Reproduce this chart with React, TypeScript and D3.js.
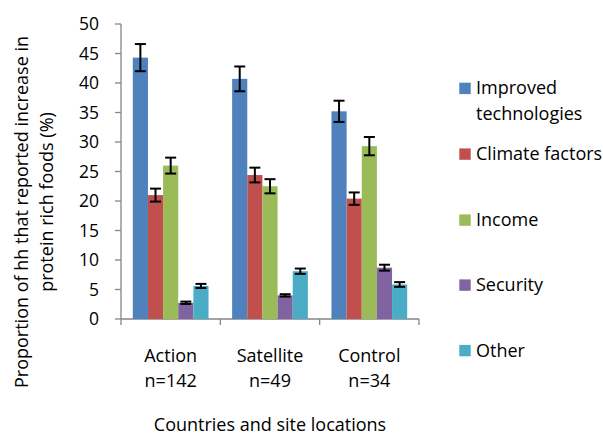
import React from "react";
import * as d3 from "d3";

const categories = ["Action", "Satellite", "Control"];
const categorySubLabels = ["n=142", "n=49", "n=34"];
const seriesNames = ["Improved technologies", "Climate factors", "Income", "Security", "Other"];
const legendLines = [["Improved", "technologies"], ["Climate factors"], ["Income"], ["Security"], ["Other"]];
const seriesColors = ["#4F81BD", "#C0504D", "#9BBB59", "#8064A2", "#4BACC6"];
// values[series][category]
const improvedValues = [44.3, 40.7, 35.2];
const climateValues = [21.0, 24.4, 20.4];
const incomeValues = [26.0, 22.5, 29.3];
const securityValues = [2.75, 4.0, 8.7];
const otherValues = [5.6, 8.1, 5.85];
const improvedErr = [2.3, 2.1, 1.8];
const climateErr = [1.1, 1.25, 1.05];
const incomeErr = [1.35, 1.2, 1.55];
const securityErr = [0.2, 0.2, 0.5];
const otherErr = [0.35, 0.45, 0.4];
const yTicks = [0, 5, 10, 15, 20, 25, 30, 35, 40, 45, 50];
const yTitle = ["Proportion of hh that reported increase in", "protein rich foods (%)"];
const xTitle = "Countries and site locations";

const values = [improvedValues, climateValues, incomeValues, securityValues, otherValues];
const errors = [improvedErr, climateErr, incomeErr, securityErr, otherErr];

const FONT = "'Open Sans', sans-serif";
const AXIS = "#868686";

export default function App() {
  const W = 603, H = 433;
  const left = 121, right = 419, top = 24, bottom = 319;
  const y = d3.scaleLinear().domain([0, 50]).range([bottom, top]);
  const x0 = d3.scaleBand<string>().domain(categories).range([left, right]).padding(0);
  const step = x0.bandwidth();
  const x1 = d3.scaleBand<string>().domain(seriesNames).range([11.8, step - 11.8]).padding(0);
  const bw = x1.bandwidth();
  const legendBaselines = [94.3, 160, 226, 291, 356.5];
  const fs = 18;

  return (
    <svg width={W} height={H} style={{ position: "absolute", left: 0, top: 0, background: "#fff" }} fontFamily={FONT}>
      <rect width={W} height={H} fill="#fff" />
      {/* y axis */}
      <line x1={left} x2={left} y1={top} y2={bottom} stroke={AXIS} strokeWidth={1.3} />
      {yTicks.map((t) => (
        <g key={t}>
          <line x1={left - 6} x2={left} y1={y(t)} y2={y(t)} stroke={AXIS} strokeWidth={1.3} />
          <text x={99} y={y(t) + 6} textAnchor="end" fontSize={17.5} fill="#000">{t}</text>
        </g>
      ))}
      {/* x axis */}
      <line x1={left} x2={right} y1={bottom} y2={bottom} stroke={AXIS} strokeWidth={1.3} />
      {[...categories.map((c) => x0(c)!), right].map((px, i) => (
        <line key={i} x1={px} x2={px} y1={bottom} y2={bottom + 6} stroke={AXIS} strokeWidth={1.3} />
      ))}
      {/* bars */}
      {seriesNames.map((s, si) => (
        <g key={s}>
          {categories.map((c, ci) => {
            const v = values[si][ci];
            const bx = x0(c)! + x1(s)!;
            return (
              <rect key={c} x={bx} y={y(v)} width={bw} height={bottom - y(v)} fill={seriesColors[si]} />
            );
          })}
        </g>
      ))}
      {/* error bars */}
      {seriesNames.map((s, si) => (
        <g key={s + "e"} stroke="#000" strokeWidth={2}>
          {categories.map((c, ci) => {
            const v = values[si][ci];
            const e = errors[si][ci];
            const cx = x0(c)! + x1(s)! + bw / 2;
            const hi = y(v + e), lo = y(v - e);
            return (
              <g key={c}>
                <line x1={cx} x2={cx} y1={hi} y2={lo} />
                <line x1={cx - 5.5} x2={cx + 5.5} y1={hi} y2={hi} />
                <line x1={cx - 5.5} x2={cx + 5.5} y1={lo} y2={lo} />
              </g>
            );
          })}
        </g>
      ))}
      {/* category labels */}
      {categories.map((c, i) => (
        <g key={c}>
          <text x={x0(c)! + step / 2} y={361.5} textAnchor="middle" fontSize={fs} fill="#000">{c}</text>
          <text x={x0(c)! + step / 2} y={387.3} textAnchor="middle" fontSize={fs} fill="#000">{categorySubLabels[i]}</text>
        </g>
      ))}
      <text x={270} y={431} textAnchor="middle" fontSize={fs} fill="#000">{xTitle}</text>
      {/* y title */}
      <g transform="translate(28,0) rotate(-90)">
        <text x={-212} y={0} textAnchor="middle" fontSize={fs} fill="#000">{yTitle[0]}</text>
        <text x={-202} y={25} textAnchor="middle" fontSize={fs} fill="#000">{yTitle[1]}</text>
      </g>
      {/* legend */}
      {seriesNames.map((s, si) => (
        <g key={s + "l"}>
          <rect x={459.3} y={legendBaselines[si] - 11.6} width={11.4} height={11.4} fill={seriesColors[si]} />
          {legendLines[si].map((ln, li) => (
            <text key={li} x={476} y={legendBaselines[si] + li * 25.7} fontSize={fs} fill="#000">{ln}</text>
          ))}
        </g>
      ))}
    </svg>
  );
}
